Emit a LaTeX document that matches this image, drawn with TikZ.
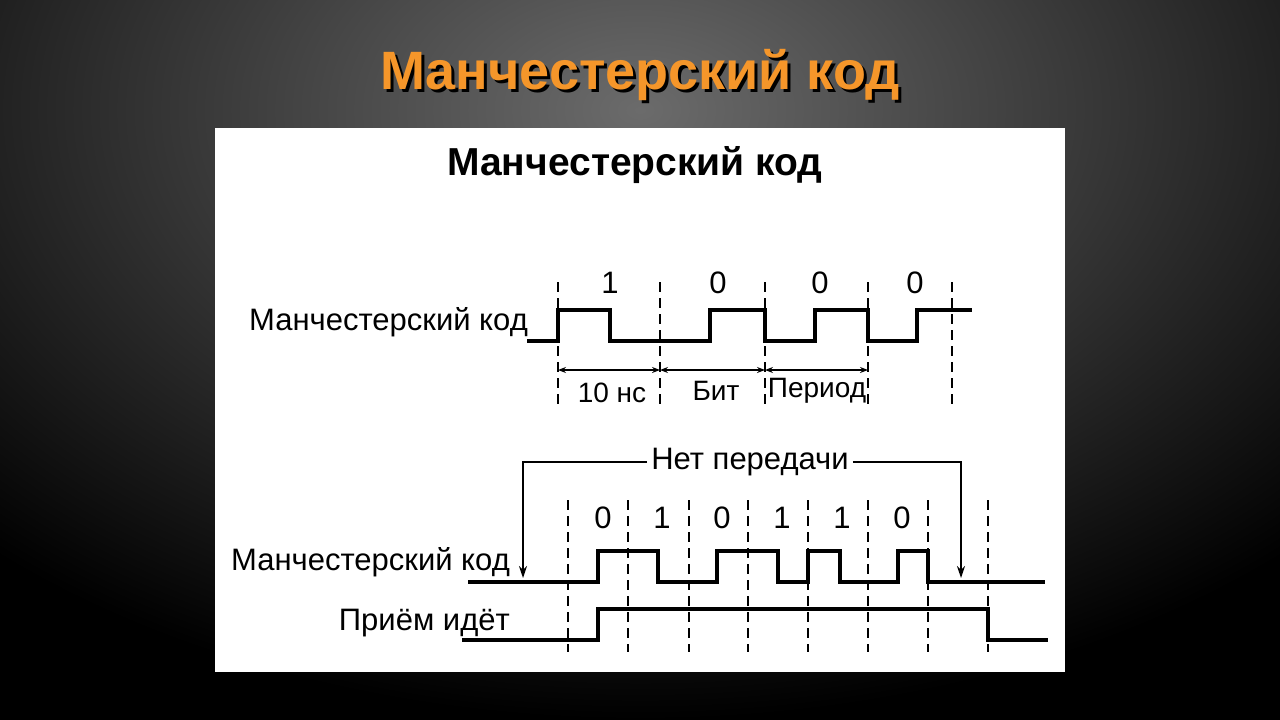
\documentclass[tikz,border=0pt]{standalone}
\usepackage{fontspec}
\setmainfont{Liberation Sans}
\usetikzlibrary{arrows.meta}
\definecolor{tor}{HTML}{F5962A}
\begin{document}
\begin{tikzpicture}[x=1pt,y=-1pt,
  sig/.style={line width=3.4pt,line join=miter},
  dsh/.style={line width=1.8pt,dash pattern=on 10pt off 6pt},
  lbl/.style={font=\fontsize{31}{34}\selectfont,inner sep=0pt},
  dim/.style={line width=1.2pt,{Stealth[length=8pt]}-{Stealth[length=8pt]}},
  br/.style={line width=1.6pt}]
\useasboundingbox (0,0) rectangle (1280,720);
\fill[black] (0,0) rectangle (1280,720);
\shade[inner color=black!58, outer color=black] (-300,-500) rectangle (1580,720);
\node[font=\bfseries\fontsize{54}{58}\selectfont,text=black] (ts) at (643,78) {Манчестерский код};
\node[font=\bfseries\fontsize{54}{58}\selectfont,text=tor] (t) at (640,75) {Манчестерский код};
\fill[white] (215,128) rectangle (1065,672);
\node[font=\bfseries\fontsize{39}{43}\selectfont] (t2) at (635,165) {Манчестерский код};
% top
\foreach \x in {558,660,765,868,952} \draw[dsh] (\x,282) -- (\x,408);
\draw[sig] (527,341) -- (558,341) -- (558,310) -- (610,310) -- (610,341) -- (710,341) -- (710,310) -- (765,310) -- (765,341) -- (815,341) -- (815,310) -- (868,310) -- (868,341) -- (917,341) -- (917,310) -- (972,310);
\node[lbl,anchor=east] (l1) at (528,322) {Манчестерский код};
\foreach \x/\b [count=\i] in {610/1,718/0,820/0,915/0} \node[lbl] (tb\i) at (\x,283) {\b};
\coordinate (a0) at (558,370); \coordinate (a1) at (660,370); \coordinate (a2) at (765,370); \coordinate (a3) at (868,370);
\draw[dim] (a0) -- (a1); \draw[dim] (a1) -- (a2); \draw[dim] (a2) -- (a3);
\node[lbl,font=\fontsize{28}{30}\selectfont] (d1) at (612,393) {10 нс};
\node[lbl,font=\fontsize{28}{30}\selectfont] (d2) at (716,391) {Бит};
\node[lbl,font=\fontsize{28}{30}\selectfont] (d3) at (817,391) {Период};
% bottom
\foreach \x in {568,628,689,748,808,868,928,988} \draw[dsh] (\x,500) -- (\x,652);
\foreach \x/\b [count=\i] in {603/0,662/1,722/0,782/1,842/1,902/0} \node[lbl] (bb\i) at (\x,518) {\b};
\draw[sig] (468,582) -- (598,582) -- (598,551) -- (658,551) -- (658,582) -- (717,582) -- (717,551) -- (778,551) -- (778,582) -- (808,582) -- (808,551) -- (840,551) -- (840,582) -- (898,582) -- (898,551) -- (928,551) -- (928,582) -- (1045,582);
\draw[sig] (462,640) -- (598,640) -- (598,609) -- (988,609) -- (988,640) -- (1048,640);
\node[lbl,anchor=east] (l2) at (510,562) {Манчестерский код};
\node[lbl,anchor=east] (l3) at (510,623) {Приём идёт};
\node[lbl,inner xsep=4pt] (np) at (750,462) {Нет передачи};
\coordinate (eL) at (523,578); \coordinate (eR) at (961,578);
\draw[br,-{Stealth[length=12pt,width=8pt]}] (np.west) -- (523,462) -- (eL);
\draw[br,-{Stealth[length=12pt,width=8pt]}] (np.east) -- (961,462) -- (eR);
\end{tikzpicture}
\end{document}
